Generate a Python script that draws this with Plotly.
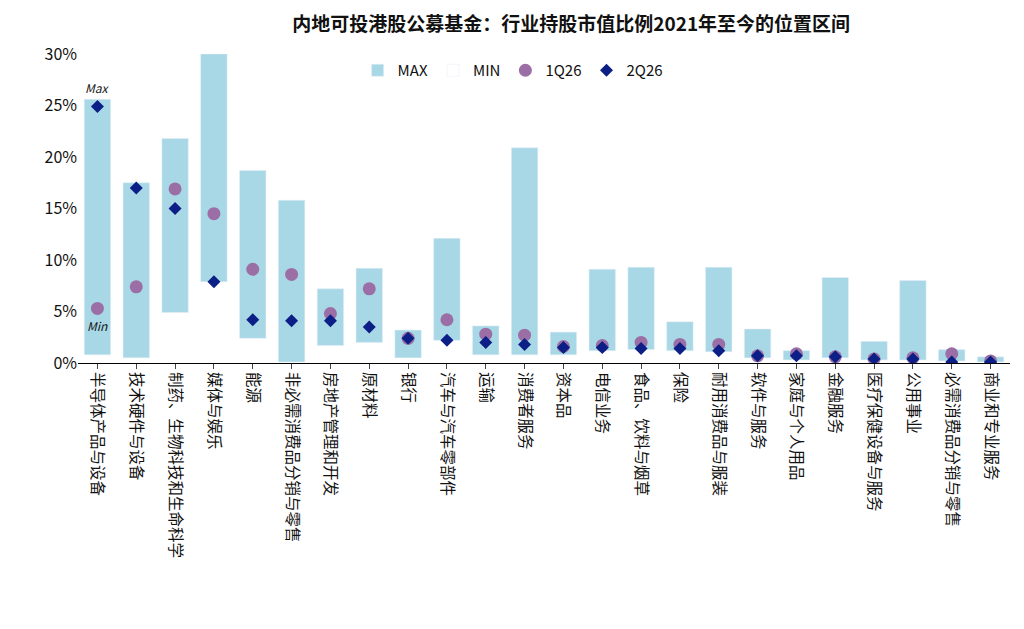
import plotly.graph_objects as go

cats = ["半导体产品与设备","技术硬件与设备","制药、生物科技和生命科学","媒体与娱乐","能源","非必需消费品分销与零售",
        "房地产管理和开发","原材料","银行","汽车与汽车零部件","运输","消费者服务","资本品","电信业务",
        "食品、饮料与烟草","保险","耐用消费品与服装","软件与服务","家庭与个人用品","金融服务",
        "医疗保健设备与服务","公用事业","必需消费品分销与零售","商业和专业服务"]
max_v = [25.6,17.5,21.8,30.0,18.7,15.8,7.2,9.2,3.2,12.1,3.6,20.9,3.0,9.1,9.3,4.0,9.3,3.3,1.2,8.3,2.1,8.0,1.3,0.6]
min_v = [0.8,0.5,4.9,7.9,2.4,0.1,1.7,2.0,0.5,2.2,0.8,0.8,0.8,1.2,1.3,1.2,1.1,0.5,0.3,0.5,0.3,0.3,0.2,0.1]
q1 = [5.3,7.4,16.9,14.5,9.1,8.6,4.8,7.2,2.4,4.2,2.8,2.7,1.6,1.7,2.0,1.8,1.8,0.7,0.9,0.6,0.4,0.5,0.9,0.2]
q2 = [24.9,17.0,15.0,7.9,4.2,4.1,4.1,3.5,2.4,2.2,2.0,1.8,1.5,1.5,1.4,1.4,1.2,0.7,0.7,0.6,0.4,0.4,0.1,0.1]

fig = go.Figure()
fig.add_bar(x=cats, y=[a-b for a, b in zip(max_v, min_v)], base=min_v, name="MAX",
            marker_color="#a8d8e6", width=0.68)
fig.add_bar(x=[cats[0]], y=[None], name="MIN", marker_color="white")
fig.add_scatter(x=cats, y=q1, mode="markers", name="1Q26",
                marker=dict(color="#9b6fa6", size=13, symbol="circle"))
fig.add_scatter(x=cats, y=q2, mode="markers", name="2Q26",
                marker=dict(color="#0c1f86", size=10, symbol="diamond"))
fig.add_annotation(x=cats[0], y=max_v[0], text="<i>Max</i>", showarrow=False, yshift=12, font=dict(size=12))
fig.add_annotation(x=cats[0], y=3.6, text="<i>Min</i>", showarrow=False, font=dict(size=12))

fig.update_layout(
    width=1024, height=629, barmode="overlay",
    paper_bgcolor="white", plot_bgcolor="white",
    font=dict(family="Noto Sans CJK SC", size=15, color="#111"),
    title=dict(text="<b>内地可投港股公募基金：行业持股市值比例2021年至今的位置区间</b>", x=0.55, y=0.985,
               xanchor="center", font=dict(size=19)),
    margin=dict(l=70, r=22, t=46, b=274),
    legend=dict(orientation="h", x=0.3, y=1.0, xanchor="left", yanchor="top",
                bgcolor="rgba(0,0,0,0)", font=dict(size=15)),
    xaxis=dict(tickangle=90, showline=True, linecolor="black", ticks="outside",
               tickfont=dict(size=15.5), range=[-0.5, 23.5]),
    yaxis=dict(range=[0, 30], dtick=5, ticksuffix="%", showgrid=False, zeroline=False,
               tickfont=dict(size=16)),
)
fig.write_html("out.html")
